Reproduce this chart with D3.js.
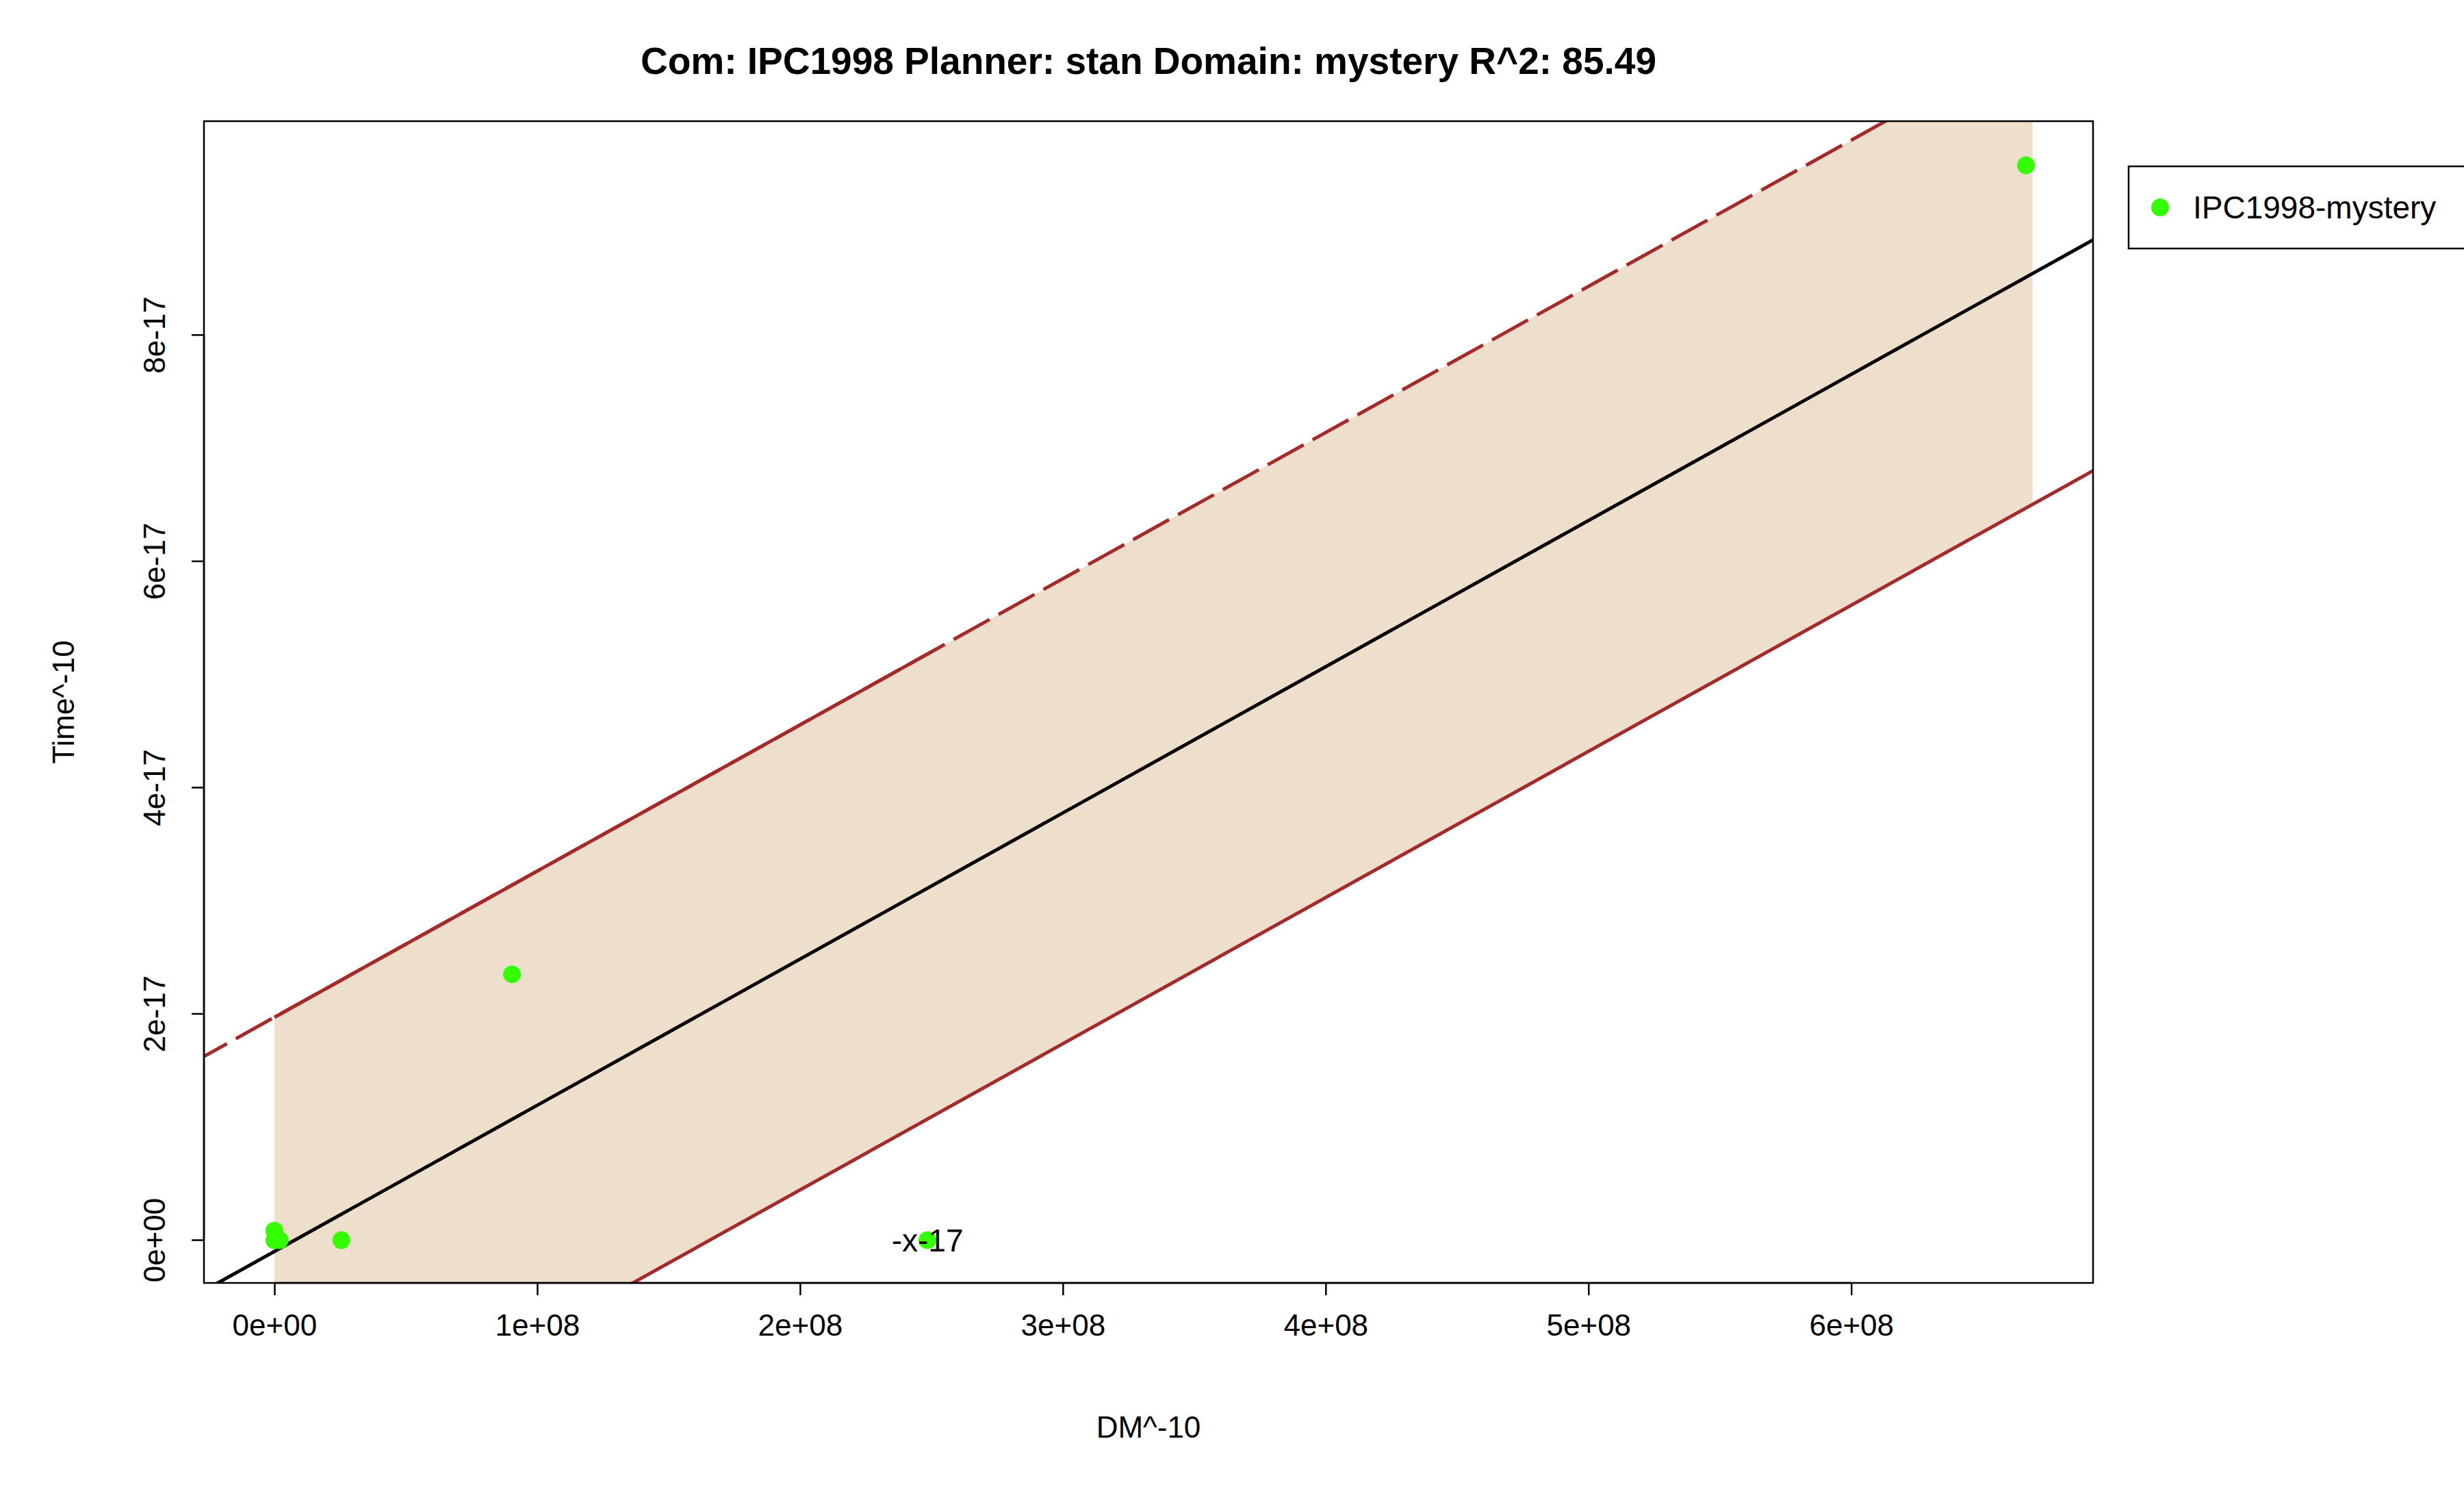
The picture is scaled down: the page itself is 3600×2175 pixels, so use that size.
<!DOCTYPE html>
<html><head><meta charset="utf-8">
<script src="https://cdn.jsdelivr.net/npm/d3@7"></script>
<style>body{margin:0;background:#fff}text{font-family:"Liberation Sans",Arial,sans-serif}</style>
</head><body><div id="chart"></div>
<script>
// data
const ptX = [0, 0, 2e6, 2.55e7, 9.04e7, 2.485e8, 6.665e8];
const ptY = [8.3e-19, 0, 0, 0, 2.35e-17, 0, 9.5e-17];
const slope = 1.292e-25;
const fitB = -1.0e-18, upB = 1.97e-17, loB = -2.14e-17;
const bandX = [0, 6.69e8];
const xTicks = [0, 1e8, 2e8, 3e8, 4e8, 5e8, 6e8];
const xTickLabels = ["0e+00", "1e+08", "2e+08", "3e+08", "4e+08", "5e+08", "6e+08"];
const yTicks = [0, 2e-17, 4e-17, 6e-17, 8e-17];
const yTickLabels = ["0e+00", "2e-17", "4e-17", "6e-17", "8e-17"];

const W = 3600, H = 2175;
const L = 298, R = 3058, T = 177, B = 1874;
const svg = d3.select("#chart").append("svg").attr("width", W).attr("height", H);
const x = d3.scaleLinear().domain([-0.268e8, 6.92e8]).range([L, R]);
const y = d3.scaleLinear().domain([-0.378e-17, 9.89e-17]).range([B, T]);

svg.append("clipPath").attr("id", "clip").append("rect")
  .attr("x", L).attr("y", T).attr("width", R - L).attr("height", B - T);
const g = svg.append("g").attr("clip-path", "url(#clip)");

const band = [[bandX[0], slope * bandX[0] + upB], [bandX[1], slope * bandX[1] + upB],
              [bandX[1], slope * bandX[1] + loB], [bandX[0], slope * bandX[0] + loB]];
g.append("path").attr("d", "M" + band.map(d => [x(d[0]), y(d[1])].join(",")).join("L") + "Z")
  .attr("fill", "#EEDFCC");

const x0 = -1e8, x1 = 8e8;
function line(b, col, dash) {
  const l = g.append("line").attr("x1", x(x0)).attr("y1", y(slope * x0 + b))
    .attr("x2", x(x1)).attr("y2", y(slope * x1 + b))
    .attr("stroke", col).attr("stroke-width", 5);
  if (dash) l.attr("stroke-dasharray", dash);
}
line(upB, "#A52A2A", "60,15");
g.append("line").attr("x1", x(0)).attr("y1", y(upB)).attr("x2", x(2.5e8)).attr("y2", y(slope * 2.5e8 + upB))
  .attr("stroke", "#A52A2A").attr("stroke-width", 5);
line(loB, "#A52A2A");
line(fitB, "#000");

g.selectAll("circle").data(ptX).enter().append("circle")
  .attr("cx", d => x(d)).attr("cy", (d, i) => y(ptY[i])).attr("r", 13).attr("fill", "#33FF00");

svg.append("text").attr("x", x(2.485e8)).attr("y", y(0) + 16).attr("text-anchor", "middle")
  .attr("font-size", 46).text("-x-17");

svg.append("rect").attr("x", L).attr("y", T).attr("width", R - L).attr("height", B - T)
  .attr("fill", "none").attr("stroke", "#000").attr("stroke-width", 2.5);

const xa = svg.append("g").attr("transform", `translate(0,${B})`)
  .call(d3.axisBottom(x).tickValues(xTicks).tickFormat((d, i) => xTickLabels[i]).tickSize(18).tickPadding(28).tickSizeOuter(0));
xa.select(".domain").attr("d", `M${x(0)},0H${x(6e8)}`);
xa.selectAll("line,path").attr("stroke-width", 2.5);
xa.selectAll("text").attr("font-size", 44).attr("font-family", "Liberation Sans, Arial, sans-serif");

const ya = svg.append("g").attr("transform", `translate(${L},0)`)
  .call(d3.axisLeft(y).tickValues(yTicks).tickFormat((d, i) => yTickLabels[i]).tickSize(18).tickSizeOuter(0));
ya.select(".domain").attr("d", `M0,${y(0)}V${y(8e-17)}`);
ya.selectAll("line,path").attr("stroke-width", 2.5);
ya.selectAll("text").attr("font-size", 44).attr("font-family", "Liberation Sans, Arial, sans-serif")
  .attr("text-anchor", "middle").attr("transform", d => `translate(-72,${y(d)}) rotate(-90) translate(0,${-y(d)})`)
  .attr("x", 0).attr("y", d => y(d)).attr("dy", "0.35em");
ya.selectAll(".tick text").attr("transform", null)
  .each(function (d) { d3.select(this).attr("transform", `translate(-72,0) rotate(-90,0,0)`).attr("x", 0).attr("y", 0); });
ya.selectAll(".tick").each(function (d) {
  d3.select(this).attr("transform", `translate(0,${y(d)})`);
});

svg.append("text").attr("x", (L + R) / 2).attr("y", 108).attr("text-anchor", "middle")
  .attr("font-size", 55).attr("font-weight", "bold")
  .text("Com: IPC1998 Planner: stan Domain: mystery R^2: 85.49");
svg.append("text").attr("x", (L + R) / 2).attr("y", 2100).attr("text-anchor", "middle")
  .attr("font-size", 44).text("DM^-10");
svg.append("text").attr("transform", `translate(108,${(T + B) / 2}) rotate(-90)`).attr("text-anchor", "middle")
  .attr("font-size", 44).text("Time^-10");

svg.append("rect").attr("x", 3110).attr("y", 243).attr("width", 520).attr("height", 120)
  .attr("fill", "#fff").attr("stroke", "#000").attr("stroke-width", 2.5);
svg.append("circle").attr("cx", 3156).attr("cy", 303).attr("r", 13).attr("fill", "#33FF00");
svg.append("text").attr("x", 3204).attr("y", 319).attr("font-size", 46).text("IPC1998-mystery");
</script></body></html>
